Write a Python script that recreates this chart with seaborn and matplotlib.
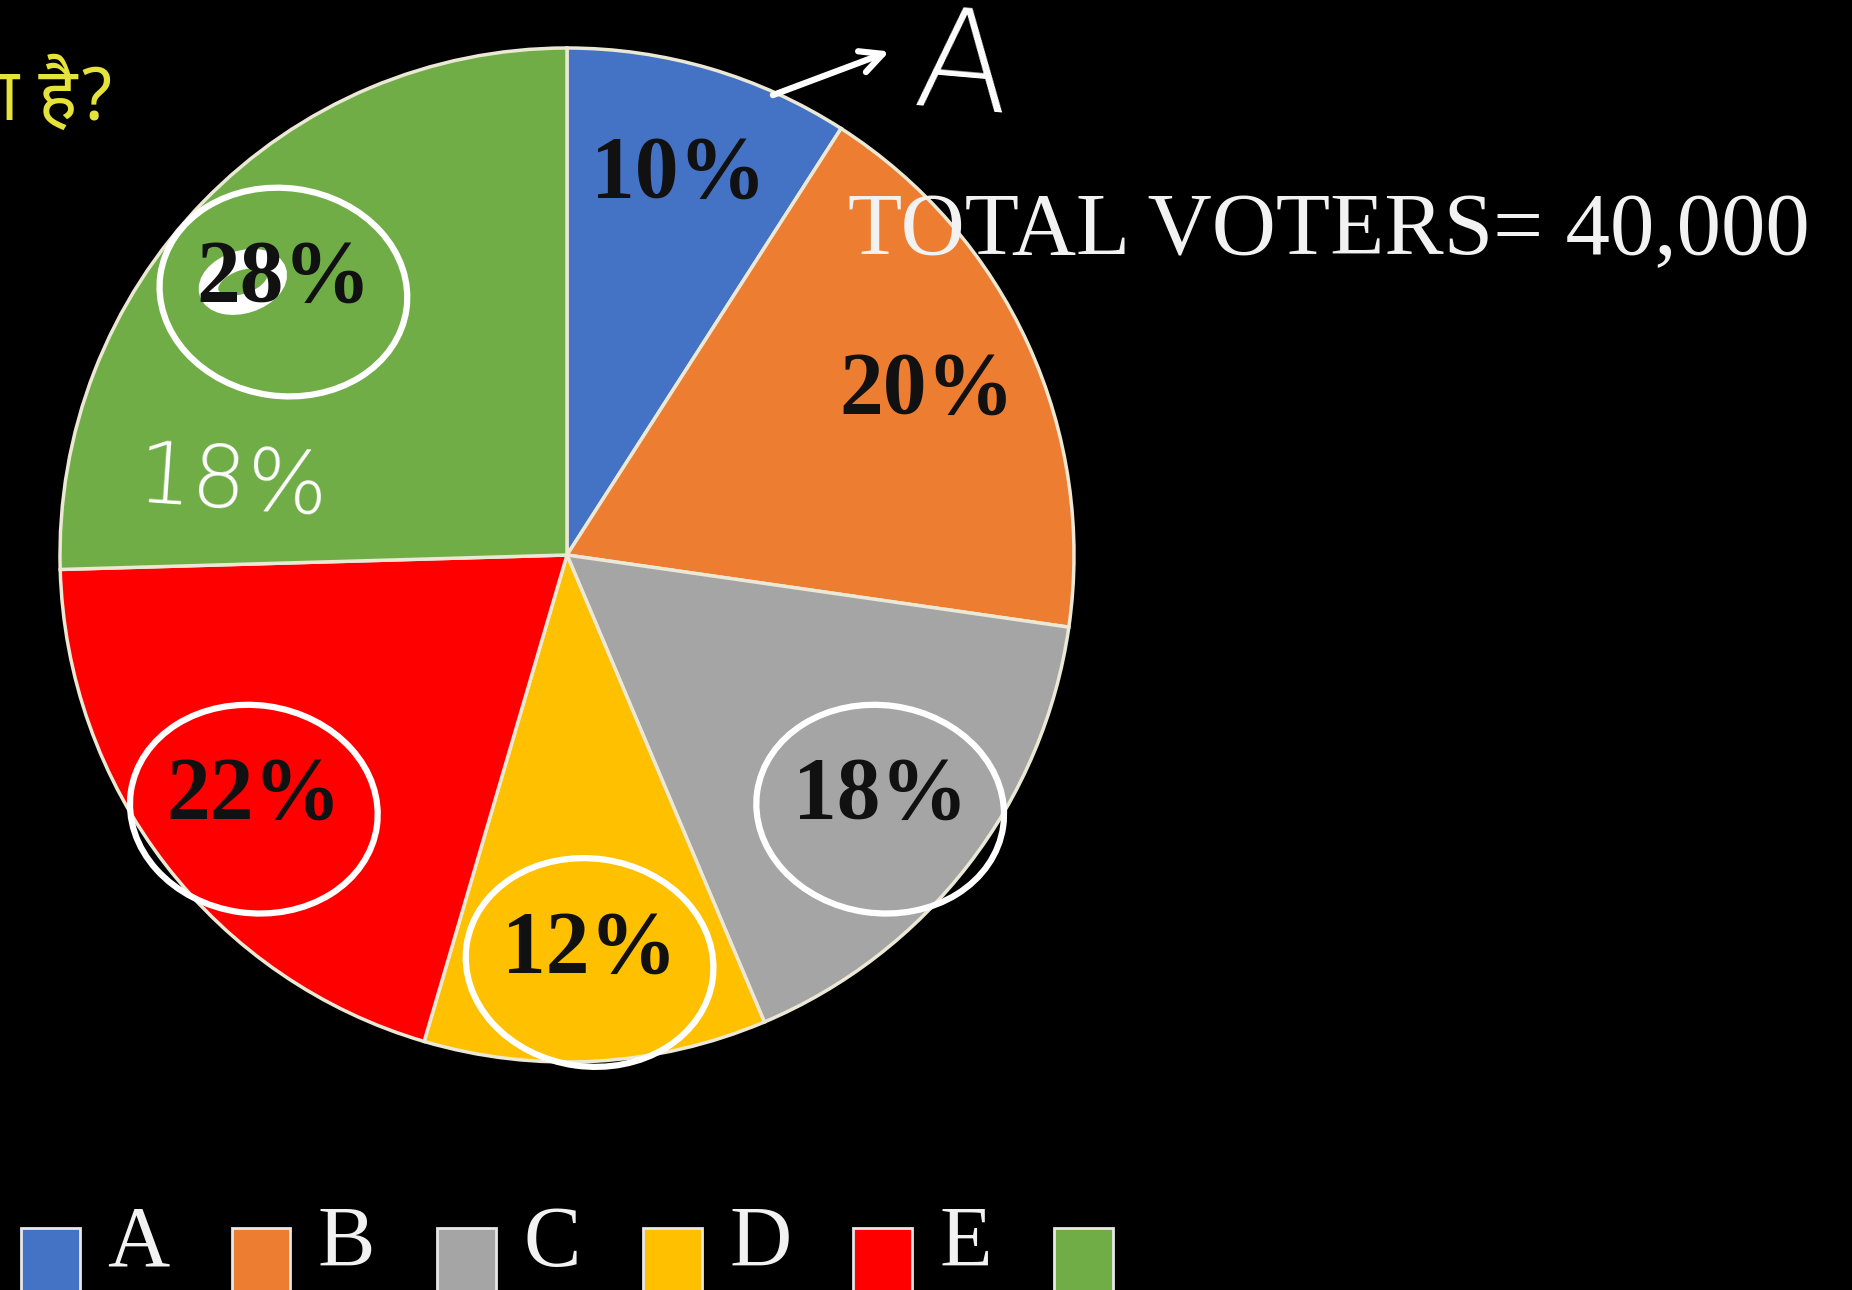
import numpy as np
import pandas as pd
import seaborn as sns
import matplotlib.pyplot as plt
from matplotlib.patches import Ellipse

# chart data
parties = ['A', 'B', 'C', 'D', 'E', '']
shares = [10, 20, 18, 12, 22, 28]
slice_colors = ['#4472C4', '#ED7D31', '#A5A5A5', '#FFC000', '#FF0000', '#70AD47']
title_text = 'TOTAL VOTERS= 40,000'
question_tail = 'ा है?'
circled = [5, 4, 2, 3]       # slices whose labels were circled by hand
correction = '18%'

df = pd.DataFrame({'party': parties, 'share': shares})
df['label'] = df['share'].astype(str) + '%'

sns.set_theme(style='white', rc={'figure.facecolor': 'black', 'axes.facecolor': 'black',
                                 'savefig.facecolor': 'black'})
plt.rcParams['font.family'] = ['Liberation Serif', 'DejaVu Serif']

W, H = 1852, 1290
fig = plt.figure(figsize=(W / 100, H / 100), dpi=100)
cx, cy, r = 567, 555, 507   # pie centre / radius in pixels from top-left
ax = fig.add_axes([(cx - r) / W, (H - cy - r) / H, 2 * r / W, 2 * r / H])

wedges, texts = ax.pie(df['share'], colors=slice_colors, labels=df['label'],
                       startangle=90, counterclock=False, labeldistance=0.78,
                       wedgeprops=dict(edgecolor='#ece8d6', linewidth=2.5),
                       textprops=dict(ha='center', va='center', fontsize=63,
                                      fontweight='bold', color='#111111'))
ax.set_xlim(-1, 1)
ax.set_ylim(-1, 1)
ax.set_aspect('equal')
ax.axis('off')

# title text on the right
fig.text(848 / W, 1 - 254 / H, title_text, color='#f2f2f2', fontsize=64,
         ha='left', va='baseline')

# partial question text top-left
fig.text(0, 1 - 120 / H, question_tail, color='#e6e23c', fontsize=53,
         ha='left', va='baseline',
         family=['Noto Sans Devanagari', 'Lohit Devanagari', 'FreeSans', 'DejaVu Sans'])

# legend along the bottom, swatches run off the figure edge
leg = fig.legend(wedges, df['party'], loc='lower left', bbox_to_anchor=(-13 / W, -29 / H),
                 ncol=6, frameon=False, fontsize=62, handlelength=0.68, handleheight=0.7,
                 handletextpad=0.32, columnspacing=0.72, labelcolor='#f2f2f2',
                 borderaxespad=0)
for h in leg.legend_handles:
    h.set_edgecolor('#e8e8e8')
    h.set_linewidth(2)
    hh = h.get_height()
    h.set_y(h.get_y() - 1.3 * hh)
    h.set_height(hh * 1.93)

# hand-drawn marks
for i in circled:
    x, y = texts[i].get_position()
    ax.add_patch(Ellipse((x, y - 0.025), 0.49, 0.41, angle=-8, fill=False,
                         edgecolor='white', lw=4.5, clip_on=False))
fx, fy = texts[5].get_position()
ax.add_patch(Ellipse((fx - 0.08, fy - 0.005), 0.14, 0.085, angle=18, fill=False,
                     edgecolor='white', lw=14, clip_on=False))
ax.text(fx - 0.1, fy - 0.405, correction, color='white', fontsize=62,
        family=['DejaVu Sans'], fontweight='light',
        ha='center', va='center', rotation=-4)

# arrow from slice A pointing to a hand-written "A"
t1, t2 = wedges[0].theta1, wedges[0].theta2
ang = np.deg2rad(t1 + (t2 - t1) * 0.27)
sx, sy = 0.99 * np.cos(ang), 0.99 * np.sin(ang)
ax.annotate('', xy=(sx + 0.24, sy + 0.09), xytext=(sx, sy),
            arrowprops=dict(arrowstyle='->', color='white', lw=4.5,
                            mutation_scale=40), annotation_clip=False)
ax.text(sx + 0.38, sy + 0.05, 'A', color='white', fontsize=100,
        family=['DejaVu Sans'], fontweight='light', ha='center', va='center',
        rotation=-5, clip_on=False)

fig.savefig('out.png', dpi=100, facecolor='black')
